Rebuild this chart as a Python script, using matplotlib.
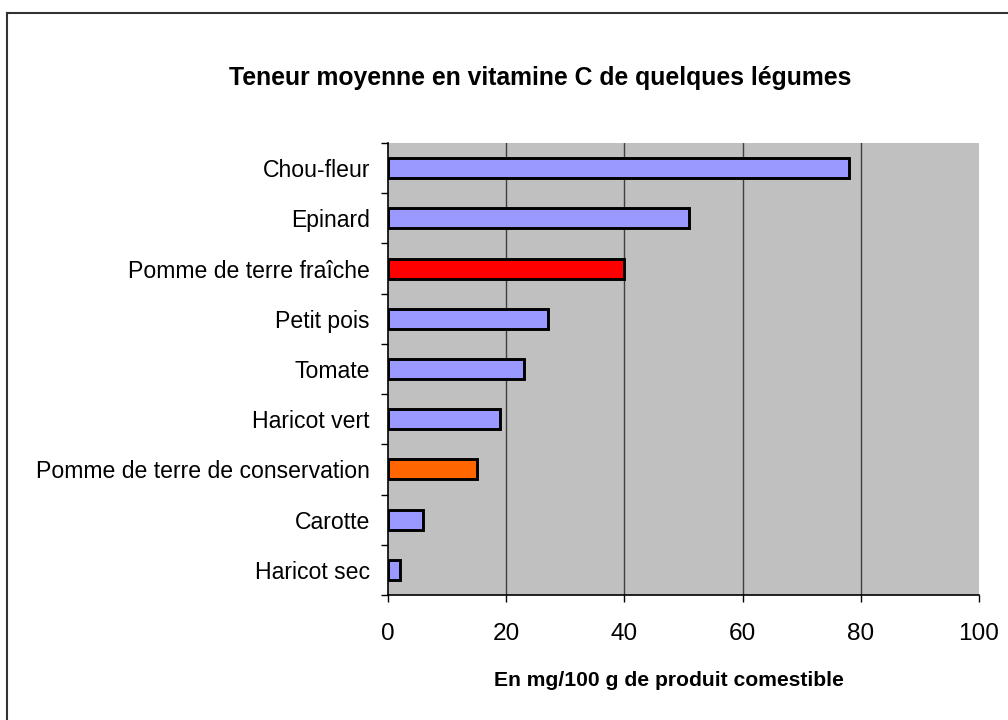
import matplotlib
matplotlib.use("Agg")
import matplotlib.pyplot as plt
from matplotlib.lines import Line2D
import numpy as np

plt.rcParams["font.family"] = ["Liberation Sans", "DejaVu Sans"]

# data, listed top to bottom as in the chart
legumes = ["Chou-fleur", "Epinard", "Pomme de terre fraîche", "Petit pois", "Tomate",
           "Haricot vert", "Pomme de terre de conservation", "Carotte", "Haricot sec"]
vitamine_c = [78, 51, 40, 27, 23, 19, 15, 6, 2]
couleurs = ["#9999FF", "#9999FF", "#FF0000", "#9999FF", "#9999FF",
            "#9999FF", "#FF6600", "#9999FF", "#9999FF"]
x_ticks = [0, 20, 40, 60, 80, 100]

fig = plt.figure(figsize=(10.08, 7.2), dpi=100)
ax = fig.add_axes([388 / 1008, 1 - 595 / 720, (979 - 388) / 1008, (595 - 143) / 720])

n = len(legumes)
pos = np.arange(n)[::-1]
ax.barh(pos, vitamine_c, height=0.4, color=couleurs, edgecolor="black", linewidth=2.1, zorder=3)

ax.set_facecolor("#C0C0C0")
ax.set_xlim(0, 100)
ax.set_ylim(-0.5, n - 0.5)
ax.set_xticks(x_ticks)
ax.set_xticklabels([str(t) for t in x_ticks], fontsize=17.6)
ax.set_yticks(pos)
ax.set_yticklabels(legumes, fontsize=16.6)
ax.set_yticks(np.arange(n + 1) - 0.5, minor=True)
ax.tick_params(axis="y", which="major", length=0, pad=13)
ax.tick_params(axis="y", which="minor", length=5, width=1, direction="out")
ax.tick_params(axis="x", length=5, width=1, direction="out", pad=15)

for v in x_ticks[1:-1]:
    ax.axvline(v, color="#404040", linewidth=1, zorder=1)

ax.spines["top"].set_visible(False)
ax.spines["right"].set_visible(False)
ax.spines["left"].set_linewidth(1.2)
ax.spines["bottom"].set_linewidth(1.2)

fig.text(0.536, 1 - 78 / 720, "Teneur moyenne en vitamine C de quelques légumes",
         ha="center", va="center", fontsize=17.8, fontweight="bold")
fig.text(669 / 1008, 1 - 686 / 720, "En mg/100 g de produit comestible",
         ha="center", va="baseline", fontsize=15.2, fontweight="bold")

# outer chart frame (left and top edges visible)
fx, fy = 7 / 1008, 1 - 12.5 / 720
fig.add_artist(Line2D([fx, fx], [-0.05, fy], transform=fig.transFigure, color="#333333", linewidth=1.5))
fig.add_artist(Line2D([fx, 1.05], [fy, fy], transform=fig.transFigure, color="#333333", linewidth=1.5))

fig.savefig("out.png", dpi=100)
plt.close(fig)
